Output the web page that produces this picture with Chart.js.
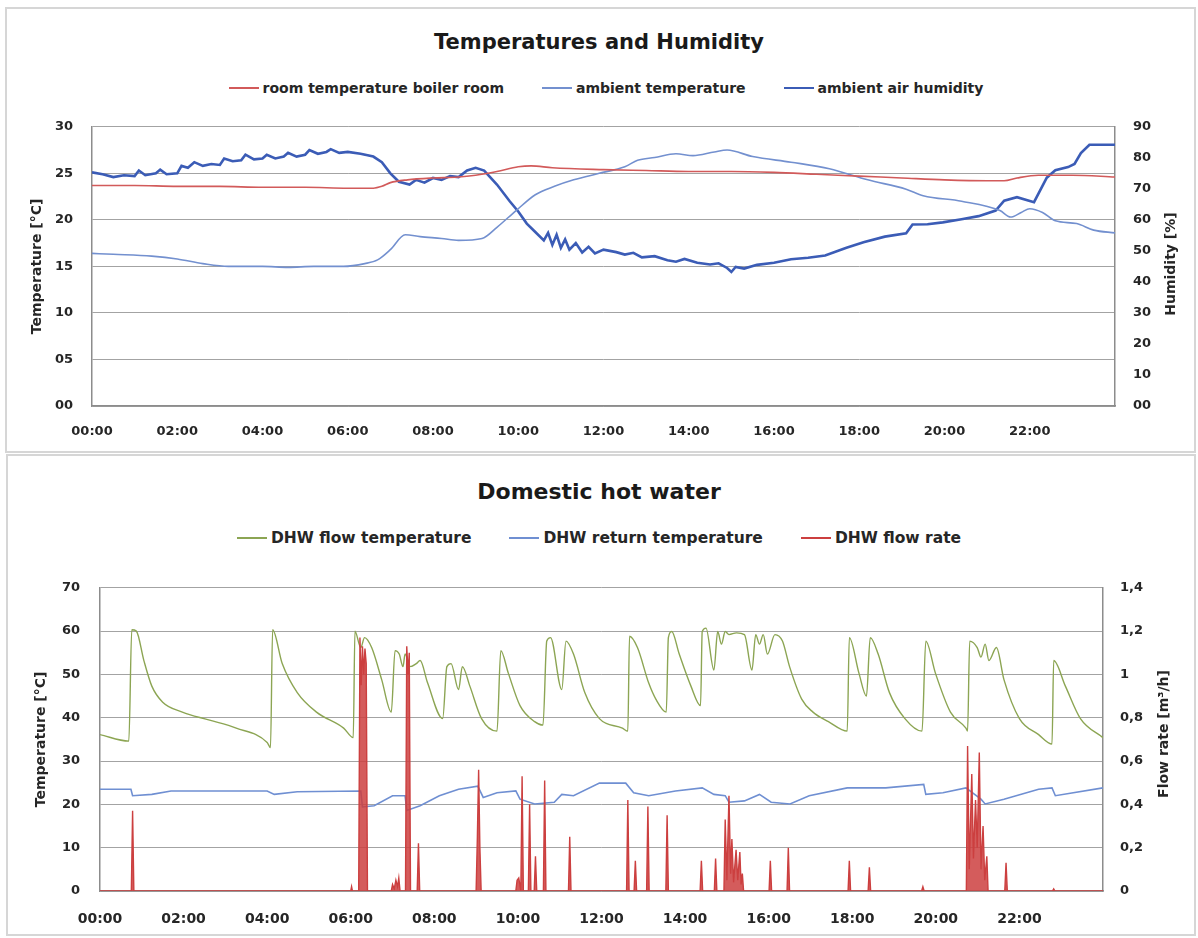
<!DOCTYPE html>
<html>
<head>
<meta charset="utf-8">
<title>Temperatures and Humidity / Domestic hot water</title>
<script src="https://cdn.jsdelivr.net/npm/chart.js@4.4.1/dist/chart.umd.min.js"></script>
<style>
  body { margin: 0; background: #fff; font-family: "DejaVu Sans", sans-serif; }
  #wrap { position: relative; width: 1198px; height: 938px; overflow: hidden; }
  .panel { position: absolute; border: 2px solid #d6d6d6; box-sizing: border-box; }
  .title { position: absolute; left: 0; width: 1198px; text-align: center; font-weight: bold; color: #1a1a1a; }
  .legend { position: absolute; left: 0; width: 1198px; display: flex; justify-content: center; font-weight: bold; color: #262626; }
  .legend .item { display: flex; align-items: center; margin: 0 19px; white-space: nowrap; }
  .legend .swatch { width: 30px; height: 2px; margin-right: 4px; }
  .ytitle { position: absolute; width: 240px; text-align: center; font-weight: bold; font-size: 14px; line-height: 18px; color: #262626; transform: rotate(-90deg); }
  canvas { position: absolute; left: 0; }
</style>
</head>
<body>
<div id="wrap">
  <div class="panel" style="left:5px; top:7px; width:1191px; height:446px;"></div>
  <div class="panel" style="left:6px; top:454px; width:1190px; height:482px;"></div>

  <div class="title" style="top:29px; font-size:21px; line-height:26px;">Temperatures and Humidity</div>
  <div class="legend" id="legend-top" style="top:79px; font-size:14px; line-height:18px; padding-left:14px; box-sizing:border-box;"></div>
  <canvas id="chart-top" width="1198" height="352" style="top:100px;"></canvas>
  <div class="ytitle" style="left:1050px; top:255px;">Humidity [%]</div>

  <div class="title" style="top:478px; font-size:22px; line-height:28px;">Domestic hot water</div>
  <div class="legend" id="legend-bottom" style="top:528px; font-size:15.5px; line-height:20px;"></div>
  <canvas id="chart-bottom" width="1198" height="375" style="top:560px;"></canvas>
  <div class="ytitle" style="left:1043px; top:725px;">Flow rate [m³/h]</div>
</div>

<script>
// ---- Temperatures and Humidity (time in hours) ----
const roomTime = [0, 1, 2, 3, 4, 5, 6, 6.6, 6.8, 7.0, 7.4, 8, 8.6, 9.0, 9.5, 10.0, 10.3, 10.8, 12, 13, 14, 15, 16, 17, 18, 19, 20, 21, 21.4, 21.7, 22.2, 23, 24];
const roomTemp = [23.7, 23.7, 23.6, 23.6, 23.5, 23.5, 23.4, 23.4, 23.6, 24.0, 24.3, 24.5, 24.6, 24.8, 25.2, 25.7, 25.8, 25.6, 25.4, 25.3, 25.2, 25.2, 25.1, 24.9, 24.7, 24.5, 24.3, 24.2, 24.2, 24.5, 24.8, 24.8, 24.6];

const ambTime = [0, 0.5, 1.4, 2.0, 2.6, 3.2, 4.0, 4.6, 5.2, 5.9, 6.4, 6.7, 7.0, 7.35, 7.7, 8.2, 8.6, 9.15, 9.5, 9.95, 10.4, 10.85, 11.3, 11.9, 12.5, 12.8, 13.2, 13.7, 14.1, 14.6, 14.9, 15.5, 16.4, 17.3, 18.2, 19.1, 19.5, 20.4, 21.3, 21.55, 21.8, 22.0, 22.3, 22.6, 23.1, 23.5, 24];
const ambTemp = [16.4, 16.3, 16.1, 15.8, 15.3, 15.0, 15.0, 14.9, 15.0, 15.0, 15.3, 15.7, 16.8, 18.4, 18.2, 18.0, 17.8, 18.0, 19.2, 21.0, 22.7, 23.6, 24.3, 25.0, 25.7, 26.4, 26.7, 27.1, 26.9, 27.3, 27.5, 26.8, 26.2, 25.5, 24.3, 23.3, 22.6, 22.0, 21.0, 20.3, 20.8, 21.2, 20.8, 19.9, 19.6, 18.9, 18.6];

const humTime = [0, 0.25, 0.5, 0.75, 1.0, 1.1, 1.25, 1.5, 1.6, 1.75, 2.0, 2.1, 2.25, 2.4, 2.6, 2.8, 3.0, 3.1, 3.3, 3.5, 3.6, 3.8, 4.0, 4.1, 4.3, 4.5, 4.6, 4.8, 5.0, 5.1, 5.3, 5.5, 5.6, 5.8, 6.0, 6.3, 6.6, 6.8, 7.0, 7.2, 7.45, 7.6, 7.8, 8.0, 8.2, 8.4, 8.6, 8.8, 9.0, 9.2, 9.5, 9.8, 10.0, 10.2, 10.4, 10.6, 10.7, 10.8, 10.9, 11.0, 11.1, 11.2, 11.35, 11.5, 11.65, 11.8, 12.0, 12.3, 12.5, 12.7, 12.9, 13.2, 13.5, 13.7, 13.9, 14.2, 14.5, 14.7, 14.9, 15.0, 15.1, 15.3, 15.6, 16.0, 16.4, 16.8, 17.2, 17.7, 18.1, 18.6, 19.1, 19.25, 19.6, 19.96, 20.4, 20.8, 21.2, 21.4, 21.7, 22.1, 22.4, 22.6, 22.9, 23.05, 23.2, 23.4, 24];
const humidity = [75.3, 74.7, 73.8, 74.4, 74.1, 75.9, 74.4, 75.0, 76.2, 74.7, 75.0, 77.4, 76.8, 78.6, 77.4, 78.0, 77.7, 79.8, 78.9, 79.2, 81.0, 79.5, 79.8, 81.0, 79.8, 80.4, 81.6, 80.4, 81.0, 82.5, 81.3, 81.9, 82.8, 81.6, 81.9, 81.3, 80.4, 78.6, 75.0, 72.3, 71.4, 72.9, 72.0, 73.5, 72.9, 74.1, 73.8, 75.9, 76.8, 75.9, 71.4, 66.0, 62.7, 58.8, 56.1, 53.4, 55.8, 51.9, 55.2, 51.0, 53.7, 50.4, 52.5, 49.5, 51.3, 49.2, 50.4, 49.6, 48.8, 49.4, 47.9, 48.3, 47.0, 46.5, 47.4, 46.2, 45.6, 46.0, 44.5, 43.2, 44.8, 44.3, 45.5, 46.2, 47.3, 47.8, 48.5, 51.0, 52.8, 54.6, 55.7, 58.5, 58.6, 59.2, 60.2, 61.2, 63.0, 66.2, 67.3, 65.7, 73.6, 76.0, 77.0, 78.0, 81.5, 84.2, 84.2];

// ---- Domestic hot water (time in hours) ----
const dhwFlowTime = [0, 0.69, 0.76, 0.87, 1.05, 1.24, 1.5, 1.97, 2.6, 3.26, 4.0, 4.08, 4.13, 4.36, 4.72, 5.18, 5.83, 6.06, 6.1, 6.24, 6.33, 6.5, 6.74, 6.97, 7.06, 7.16, 7.25, 7.3, 7.43, 7.57, 7.66, 7.84, 8.2, 8.3, 8.4, 8.58, 8.67, 8.85, 9.13, 9.5, 9.59, 9.77, 10.05, 10.4, 10.6, 10.69, 10.78, 11.05, 11.15, 11.33, 11.6, 11.95, 12.5, 12.63, 12.67, 12.86, 13.13, 13.3, 13.55, 13.6, 13.68, 13.86, 14.14, 14.37, 14.41, 14.5, 14.69, 14.78, 14.87, 14.96, 15.05, 15.23, 15.42, 15.6, 15.69, 15.78, 15.87, 15.97, 16.15, 16.33, 16.5, 16.79, 17.06, 17.43, 17.88, 17.93, 18.16, 18.34, 18.43, 18.62, 18.89, 19.26, 19.67, 19.76, 19.99, 20.35, 20.72, 20.76, 20.81, 20.99, 21.08, 21.18, 21.27, 21.45, 21.63, 22.0, 22.46, 22.78, 22.82, 23.1, 23.46, 24];
const dhwFlowTemp = [36.1, 34.6, 60.3, 60.0, 53.2, 47.3, 43.6, 41.3, 39.5, 37.6, 34.3, 33.1, 60.3, 52.5, 45.8, 41.3, 37.6, 35.4, 60.0, 56.2, 58.5, 56.2, 48.8, 41.3, 55.5, 54.7, 51.8, 54.7, 51.8, 52.5, 53.2, 48.0, 39.8, 51.8, 52.5, 46.5, 51.8, 47.3, 39.8, 36.9, 55.5, 50.3, 42.8, 39.1, 38.3, 57.7, 58.5, 46.5, 57.7, 54.7, 45.8, 39.8, 37.6, 36.9, 58.8, 56.2, 48.0, 44.3, 41.3, 58.5, 59.9, 54.7, 47.3, 42.8, 59.9, 60.7, 51.0, 59.9, 57.0, 59.9, 59.2, 59.6, 59.2, 51.0, 59.2, 57.0, 59.2, 54.7, 59.2, 57.7, 51.8, 44.3, 41.3, 39.1, 36.9, 58.5, 50.3, 45.0, 58.5, 54.7, 45.8, 39.8, 36.9, 57.7, 50.3, 41.3, 37.6, 36.9, 57.7, 56.2, 54.0, 57.0, 53.2, 56.2, 48.8, 39.8, 36.1, 33.9, 53.2, 47.3, 39.8, 35.4];

const dhwReturnTime = [0, 0.74, 0.78, 1.24, 1.7, 4.0, 4.17, 4.72, 6.24, 6.28, 6.56, 7.0, 7.3, 7.34, 7.66, 8.12, 8.58, 9.04, 9.17, 9.5, 9.95, 10.05, 10.4, 10.87, 11.05, 11.33, 11.95, 12.58, 12.77, 13.13, 13.77, 14.41, 14.69, 14.96, 15.05, 15.42, 15.78, 16.06, 16.51, 16.97, 17.88, 18.8, 19.71, 19.76, 20.17, 20.72, 21.08, 21.18, 21.63, 22.46, 22.78, 22.86, 24];
const dhwReturnTemp = [23.5, 23.5, 22.0, 22.3, 23.1, 23.1, 22.3, 22.9, 23.1, 19.4, 19.7, 22.0, 22.0, 18.6, 19.7, 22.0, 23.5, 24.2, 21.6, 22.7, 23.1, 21.2, 20.1, 20.5, 22.3, 22.0, 24.9, 24.9, 22.7, 22.0, 23.1, 23.8, 22.3, 22.0, 20.5, 20.8, 22.3, 20.5, 20.1, 22.0, 23.8, 23.8, 24.6, 22.3, 22.7, 23.8, 21.2, 20.1, 21.2, 23.5, 23.8, 22.0, 23.8];

const flowRateTime = [0, 0.75, 0.78, 0.81, 6.00, 6.02, 6.04, 6.19, 6.22, 6.25, 6.28, 6.31, 6.34, 6.37, 6.40, 6.97, 7.00, 7.04, 7.08, 7.12, 7.15, 7.18, 7.31, 7.34, 7.37, 7.40, 7.43, 7.59, 7.62, 7.65, 9.00, 9.03, 9.06, 9.09, 9.12, 9.95, 9.98, 10.02, 10.07, 10.10, 10.13, 10.25, 10.28, 10.31, 10.39, 10.42, 10.45, 10.61, 10.64, 10.67, 11.21, 11.24, 11.27, 12.60, 12.63, 12.66, 12.78, 12.81, 12.84, 13.08, 13.11, 13.14, 13.54, 13.57, 13.60, 14.36, 14.39, 14.42, 14.70, 14.73, 14.76, 14.93, 14.96, 15.00, 15.05, 15.09, 15.12, 15.16, 15.22, 15.26, 15.31, 15.34, 15.37, 15.40, 16.01, 16.04, 16.07, 16.44, 16.47, 16.50, 17.90, 17.93, 17.96, 18.38, 18.41, 18.44, 19.66, 19.69, 19.72, 20.73, 20.76, 20.80, 20.86, 20.90, 20.95, 20.99, 21.04, 21.08, 21.13, 21.17, 21.22, 21.25, 21.65, 21.68, 21.71, 22.79, 22.82, 22.85, 24];
const flowRate = [0, 0, 0.37, 0, 0, 0.02, 0, 0, 1.17, 0.95, 1.13, 1.0, 1.12, 1.05, 0, 0, 0.03, 0.01, 0.05, 0.02, 0.06, 0, 0, 1.13, 1.0, 1.1, 0, 0, 0.22, 0, 0, 0.25, 0.56, 0.2, 0, 0, 0.05, 0.06, 0, 0.53, 0, 0, 0.40, 0, 0, 0.16, 0, 0, 0.51, 0, 0, 0.25, 0, 0, 0.42, 0, 0, 0.14, 0, 0, 0.39, 0, 0, 0.35, 0, 0, 0.14, 0, 0, 0.15, 0, 0, 0.33, 0.05, 0.44, 0.08, 0.24, 0.04, 0.19, 0.05, 0.18, 0.03, 0.08, 0, 0, 0.14, 0, 0, 0.20, 0, 0, 0.14, 0, 0, 0.11, 0, 0, 0.02, 0, 0, 0.67, 0.1, 0.54, 0.15, 0.42, 0.2, 0.64, 0.1, 0.30, 0.05, 0.16, 0, 0, 0.13, 0, 0, 0.01, 0, 0];

Chart.defaults.font.family = '"DejaVu Sans", sans-serif';
Chart.defaults.font.weight = 'bold';
Chart.defaults.color = '#262626';

const toPoints = (xs, ys) => xs.map((x, i) => ({ x: x, y: ys[i] }));
const hourLabel = v => v === 24 ? '' : String(v).padStart(2, '0') + ':00';
const pad2 = v => String(v).padStart(2, '0');
const commaLabel = v => String(Math.round(v * 10) / 10).replace('.', ',');

function buildLegend(el, datasets, lineWidths) {
    datasets.forEach(ds => {
        const item = document.createElement('span');
        item.className = 'item';
        item.innerHTML = `<span class="swatch" style="background:${ds.borderColor}"></span><span>${ds.label}</span>`;
        el.appendChild(item);
    });
}

function baseOptions(cfg) {
    return {
        responsive: false,
        animation: false,
        layout: { padding: { top: cfg.top, left: 0, right: 0, bottom: 0 } },
        elements: { point: { radius: 0 } },
        plugins: { legend: { display: false }, title: { display: false }, tooltip: { enabled: false } },
        scales: {
            x: {
                type: 'linear', min: 0, max: 24,
                grid: { display: false, drawTicks: false },
                border: { display: true, color: '#8c8c8c', width: 1.5 },
                ticks: { stepSize: 2, autoSkip: false, maxRotation: 0, padding: cfg.xPad, font: { size: cfg.xFont }, callback: hourLabel },
                afterFit: s => { s.height = cfg.xHeight; }
            },
            y: {
                min: 0, max: cfg.yMax,
                grid: { color: '#a3a3a3', drawTicks: false },
                border: { display: true, color: '#8c8c8c', width: 1.5 },
                ticks: { stepSize: cfg.yStep, padding: cfg.yPad, font: { size: 13 }, callback: cfg.yFormat },
                title: { display: true, text: 'Temperature [°C]', font: { size: 14 }, padding: { top: cfg.titlePad, bottom: 0 } },
                afterFit: s => { s.width = cfg.leftWidth; }
            },
            y1: {
                position: 'right', min: 0, max: cfg.y1Max,
                grid: { drawOnChartArea: false, drawTicks: false },
                border: { display: true, color: '#8c8c8c', width: 1.5 },
                ticks: { stepSize: cfg.y1Step, padding: cfg.y1Pad, font: { size: 13 }, callback: cfg.y1Format },
                afterFit: s => { s.width = cfg.rightWidth; }
            }
        }
    };
}

const topDatasets = [
    { label: 'room temperature boiler room', data: toPoints(roomTime, roomTemp), borderColor: '#d25a5a', borderWidth: 1.6, cubicInterpolationMode: 'monotone', yAxisID: 'y' },
    { label: 'ambient temperature', data: toPoints(ambTime, ambTemp), borderColor: '#7390cf', borderWidth: 1.6, cubicInterpolationMode: 'monotone', yAxisID: 'y' },
    { label: 'ambient air humidity', data: toPoints(humTime, humidity), borderColor: '#3b5cb6', borderWidth: 2.6, yAxisID: 'y1' }
];

new Chart(document.getElementById('chart-top'), {
    type: 'line',
    data: { datasets: topDatasets },
    options: baseOptions({
        top: 22, xHeight: 46, xPad: 18, xFont: 13,
        yMax: 30, yStep: 5, yPad: 19, yFormat: pad2, titlePad: 29, leftWidth: 92,
        y1Max: 90, y1Step: 10, y1Pad: 18, y1Format: pad2, rightWidth: 83
    })
});
buildLegend(document.getElementById('legend-top'), topDatasets);

const bottomDatasets = [
    { label: 'DHW flow temperature', data: toPoints(dhwFlowTime, dhwFlowTemp), borderColor: '#8ca553', borderWidth: 1.4, cubicInterpolationMode: 'monotone', yAxisID: 'y', order: 1 },
    { label: 'DHW return temperature', data: toPoints(dhwReturnTime, dhwReturnTemp), borderColor: '#6f8fd2', borderWidth: 1.6, yAxisID: 'y', order: 2 },
    { label: 'DHW flow rate', data: toPoints(flowRateTime, flowRate), borderColor: '#cc3f3f', backgroundColor: 'rgba(204,63,63,0.85)', fill: 'origin', borderWidth: 1.4, yAxisID: 'y1', order: 0 }
];

new Chart(document.getElementById('chart-bottom'), {
    type: 'line',
    data: { datasets: bottomDatasets },
    options: baseOptions({
        top: 18, xHeight: 44, xPad: 20, xFont: 14,
        yMax: 70, yStep: 10, yPad: 20, yFormat: v => String(v), titlePad: 33, leftWidth: 100,
        y1Max: 1.4, y1Step: 0.2, y1Pad: 17, y1Format: commaLabel, rightWidth: 95
    })
});
buildLegend(document.getElementById('legend-bottom'), bottomDatasets);
</script>
</body>
</html>
